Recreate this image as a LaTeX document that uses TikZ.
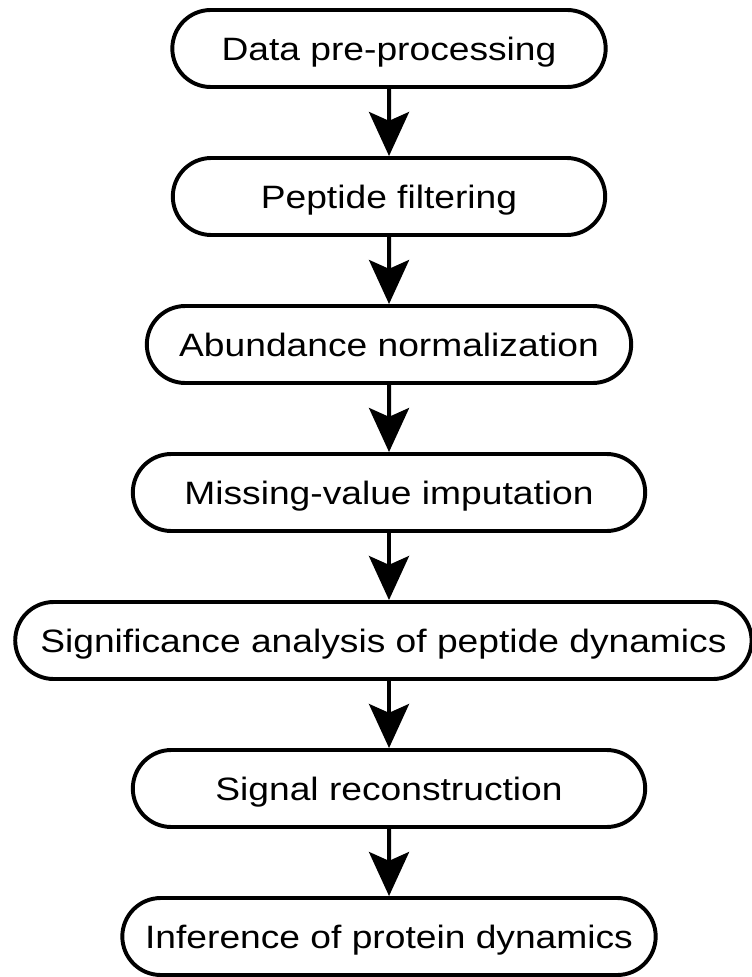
\documentclass[tikz,border=0pt]{standalone}
\usepackage{fontspec}
\setmainfont{Liberation Sans}[FakeStretch=1.15]
\usepackage{tikz}
\usetikzlibrary{arrows.meta}
\usetikzlibrary{shapes.misc}

\begin{document}
\begin{tikzpicture}[>={Stealth[length=11mm,width=10mm,inset=2.2mm]},line width=2.8pt,node distance=3.7cm,
  stage/.style={rounded rectangle,draw,minimum height=1.925cm,inner xsep=2pt,text height=0.58cm,text depth=0pt,font=\fontsize{23}{27}\selectfont}]
  \useasboundingbox (0,0) rectangle (18.8,-24.425);
  \node[stage,minimum width=10.975cm]  (pre)  at (9.725,-1.2125)  {Data pre-processing};
  \node[stage,minimum width=10.95cm]  (filt)  [below of=pre]  {Peptide filtering};
  \node[stage,minimum width=12.25cm]  (norm)  [below of=filt]  {Abundance normalization};
  \node[stage,minimum width=12.95cm]  (imp)  [below of=norm]  {Missing-value imputation};
  \node[stage,minimum width=18.55cm,xshift=-0.14cm]  (sig)  [below of=imp]  {Significance analysis of peptide dynamics};
  \node[stage,minimum width=12.95cm]  (rec)  [below of=sig,xshift=0.14cm]  {Signal reconstruction};
  \node[stage,minimum width=13.475cm]  (inf)  [below of=rec]  {Inference of protein dynamics};
  \path[->] (pre) edge (filt);
  \path[->] (filt) edge (norm);
  \path[->] (norm) edge (imp);
  \path[->] (imp.south) edge (imp.south |- sig.north);
  \path[->] (sig.south -| rec.north) edge (rec);
  \path[->] (rec) edge (inf);
\end{tikzpicture}
\end{document}
